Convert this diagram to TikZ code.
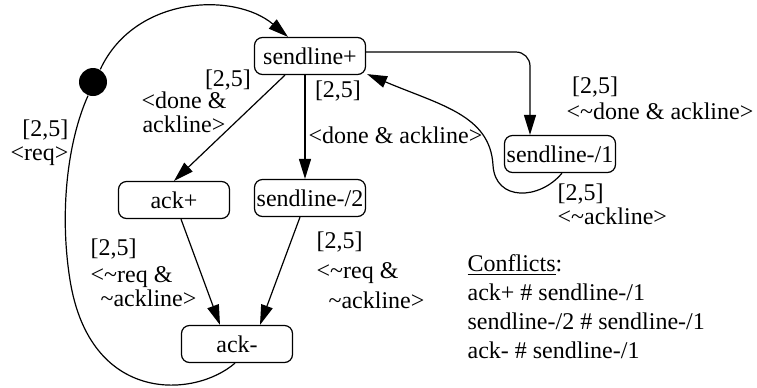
\documentclass[tikz,border=0pt]{standalone}
\usepackage{fontspec}
\setmainfont{Liberation Serif}
\usetikzlibrary{calc,arrows.meta}

\begin{document}
\begin{tikzpicture}[x=0.5pt,y=-0.5pt,line width=0.6pt,
    >={Triangle[length=10pt,width=6pt]},
    every node/.style={font=\rmfamily\fontsize{12}{12}\selectfont},
    state/.style={draw,rounded corners=4pt,minimum width=55.5pt,
        minimum height=18.5pt,inner sep=1pt},
    dot/.style={circle,fill,inner sep=0pt,minimum size=14pt},
    lbl/.style={inner sep=0pt}]
    \useasboundingbox (0,0) rectangle (757,387);
    % states
    \node[state] (sp) at (310,56) {sendline+};
    \node[state] (ap) at (174,200) {ack+};
    \node[state] (s2) at (310,198) {sendline-/2};
    \node[state] (am) at (237,344) {ack-};
    \node[state] (s1) at (560,154) {sendline-/1};
    \node[dot] (d) at (93,82) {};
    % transitions
    \draw [->] (d.60) .. controls (135,-5) and (235,-8) ..
        ($(sp.north)+(-22,0)$);
    \draw ($(am.south)+(-2,0)$) .. controls (195,398) and (90,405) ..
        (70,280) .. controls (59,211) and (68,140) .. (d.250);
    \draw [->] ($(sp.south)+(-25,0)$) -- (ap.north);
    \draw [->] ($(sp.south)+(-5,0)$) -- ($(s2.north)+(-5,0)$);
    \draw [->, rounded corners=7pt] ($(sp.east)+(0,-4)$) -|
        ($(s1.north)+(-30,0)$);
    \draw [->] ($(s1.south)+(2,0)$) .. controls (540,200) and (495,202) ..
        (493,165) .. controls (490,115) and (440,105) ..
        ($(sp.south east)+(1,-1)$);
    \draw [->] ($(ap.south)+(7,0)$) -- ($(am.north)+(-17,0)$);
    \draw [->] ($(s2.south)+(-10,0)$) -- ($(am.north)+(23,0)$);
    % labels
    \node[lbl, align=right, anchor=east] (lreq) at (69,143)
        {[2,5]\\<req>};
    \node[lbl] (lack1) at (228,80) {[2,5]};
    \node[lbl, align=center] (lack2) at (184,112) {<done \&\\ackline>};
    \node[lbl] (lsnd1) at (338,91) {[2,5]};
    \node[lbl, anchor=west] (lsnd2) at (308,135) {<done \& ackline>};
    \node[lbl] (lone1) at (595,87) {[2,5]};
    \node[lbl] (lone2) at (660,111) {<\textasciitilde done \& ackline>};
    \node[lbl, align=left, anchor=west] (lback) at (557,204)
        {[2,5]\\<\textasciitilde ackline>};
    \node[lbl, align=left, anchor=west] (lrel1) at (90,273)
        {[2,5]\\[1.5pt]<\textasciitilde req \&\\\hspace*{5pt}\textasciitilde ackline>};
    \node[lbl, align=left, anchor=west] (lrel2) at (316,270)
        {[2,5]\\[3pt]<\textasciitilde req \&\\[3pt]\hspace*{6pt}\textasciitilde ackline>};
    % conflicts
    \node[lbl, align=left, anchor=west, font=\rmfamily\fontsize{12}{14.5}\selectfont]
        (conf) at (467,306.5)
        {\underline{Conflicts}:\\ack+ \# sendline-/1\\sendline-/2 \# sendline-/1\\ack- \# sendline-/1};
\end{tikzpicture}
\end{document}
